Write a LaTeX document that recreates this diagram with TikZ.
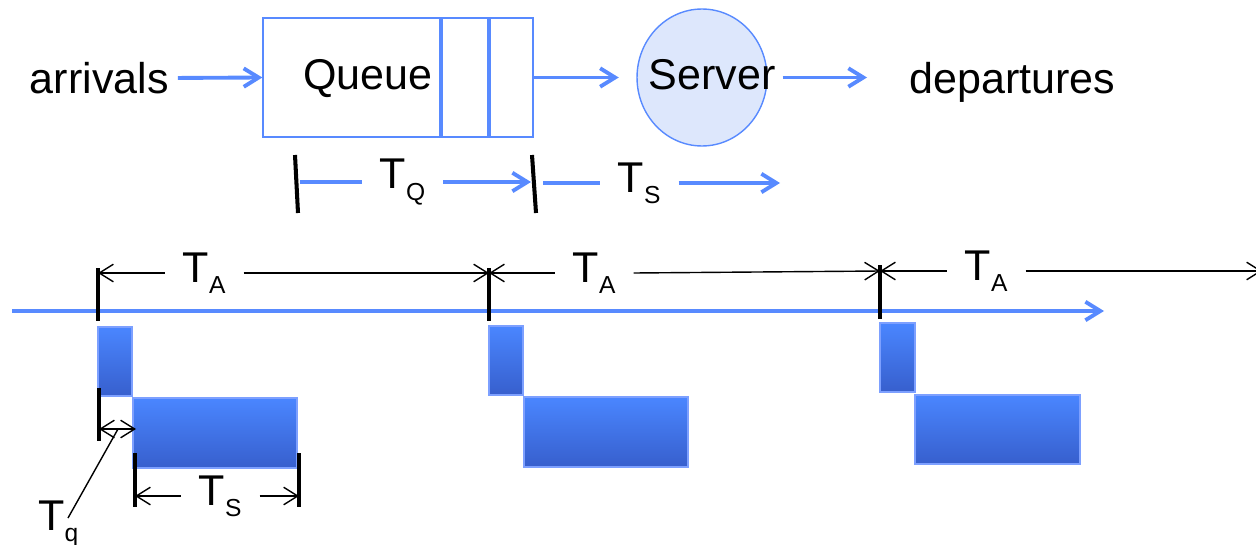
\documentclass[tikz,border=0pt]{standalone}
\usepackage{fontspec}
\setmainfont{Liberation Sans}
\usetikzlibrary{arrows.meta,shapes.geometric}
\definecolor{flowblue}{RGB}{88,138,255}
\definecolor{srvfill}{RGB}{221,231,252}
\definecolor{jobtop}{RGB}{74,134,255}
\definecolor{jobbot}{RGB}{55,95,205}
\definecolor{jobedge}{RGB}{125,160,255}
\newcommand{\tsub}[1]{T\raisebox{-6.3pt}{\fontsize{14}{14}\selectfont #1}}

\begin{document}
\begin{tikzpicture}[x=0.02cm, y=-0.02cm,
	lbl/.style={font=\fontsize{24.5}{29}\selectfont, inner sep=0pt},
	dimlbl/.style={lbl, inner xsep=10pt, anchor=west},
	flow/.style={draw=flowblue, line width=2.2pt, -{Straight Barb[length=8.5pt,width=10.5pt]}},
	flowline/.style={draw=flowblue, line width=2.2pt},
	tick/.style={draw=black, line width=2.3pt},
	dim/.style={draw=black, line width=0.8pt},
	job/.style={draw=jobedge, line width=0.8pt, top color=jobtop, bottom color=jobbot},
	>={Straight Barb[length=8pt,width=10pt]}]
	\useasboundingbox (0,0) rectangle (1256,544);

	\node[lbl, anchor=east] (arrivals) at (169,78) {arrivals};
	\node[draw=flowblue, line width=0.8pt, minimum width=5.4cm, minimum height=2.38cm] (queue) at (398,77.5) {};
	\node[lbl, anchor=base west] (qtext) at (303,90) {Queue};
	\draw[flowblue, line width=2pt] (441,18) -- (441,137);
	\draw[flowblue, line width=2pt] (489,18) -- (489,137);
	\node[ellipse, draw=flowblue, line width=0.8pt, fill=srvfill, minimum width=2.6cm, minimum height=2.74cm] (server) at (702,77.5) {};
	\node[lbl, anchor=base] (stext) at (712,90) {Server};
	\node[lbl, anchor=base west] (departures) at (909,93) {departures};
	\coordinate (depin) at (867,77.5);
	\draw[flow, shorten <=5pt] (arrivals.east) -- (queue.west);
	\draw[flow, shorten >=10pt] (queue) -- (server);
	\draw[flow, shorten <=8.5pt] (server.east) -- (depin);

	\draw[tick] (295,155) -- (298,213);
	\draw[tick] (532,155) -- (536,213);
	\coordinate (q0) at (300,182);
	\coordinate (q1) at (531,182);
	\node[dimlbl] (tq) at (362,182) {\tsub{Q}};
	\draw[flowline] (q0) -- (tq.west);
	\draw[flow] (tq.east) -- (q1);
	\coordinate (s0) at (543,183);
	\coordinate (s1) at (780,183);
	\node[dimlbl] (ts) at (600,183) {\tsub{S}};
	\draw[flowline] (s0) -- (ts.west);
	\draw[flow] (ts.east) -- (s1);

	\coordinate (ax0) at (12,311);
	\coordinate (ax1) at (1104,311);
	\draw[flow] (ax0) -- (ax1);
	\draw[tick] (98,268) -- (98,321);
	\draw[tick] (489,268) -- (489,321);
	\draw[tick] (880,265) -- (880,319);

	\coordinate (a1) at (98,273);
	\coordinate (a2) at (489,273);
	\coordinate (a3) at (880,271);
	\coordinate (a4) at (1262,271);
	\node[dimlbl] (ta1) at (165,273) {\tsub{A}};
	\node[dimlbl] (ta2) at (555,273) {\tsub{A}};
	\node[dimlbl] (ta3) at (947,271) {\tsub{A}};
	\draw[dim, <-] (a1) -- (ta1.west);
	\draw[dim, ->] (ta1.east) -- (a2);
	\draw[dim, <-] (a2) -- (ta2.west);
	\draw[dim, ->] (ta2.east) -- (a3);
	\draw[dim, <-] (a3) -- (ta3.west);
	\draw[dim, ->] (ta3.east) -- (a4);

	\shadedraw[job] (98,327) rectangle (132,396);
	\shadedraw[job] (133,398) rectangle (297,468);
	\shadedraw[job] (489,326) rectangle (523,395);
	\shadedraw[job] (524,397) rectangle (688,467);
	\shadedraw[job] (880,323) rectangle (915,392);
	\shadedraw[job] (915,395) rectangle (1080,464);

	\draw[tick] (99,388) -- (99,441);
	\coordinate (w0) at (99,429);
	\coordinate (w1) at (136,429);
	\draw[dim, <->] (w0) -- (w1);
	\node[lbl, anchor=base west] (tqq) at (38,530) {\tsub{q}};
	\coordinate (tqfoot) at (68,518);
	\coordinate (tqhead) at (118,429);
	\draw[dim] (tqfoot) -- (tqhead);

	\draw[tick] (135,453) -- (135,507);
	\draw[tick] (299,453) -- (299,507);
	\coordinate (b0) at (135,496);
	\coordinate (b1) at (299,496);
	\node[dimlbl] (tsb) at (181,496) {\tsub{S}};
	\draw[dim, <-] (b0) -- (tsb.west);
	\draw[dim, ->] (tsb.east) -- (b1);
\end{tikzpicture}
\end{document}
